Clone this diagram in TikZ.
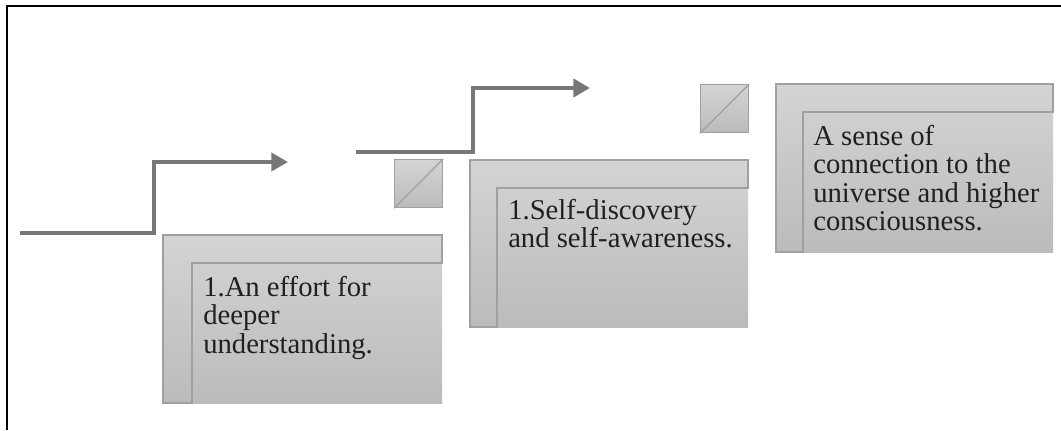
\documentclass[tikz,border=0pt]{standalone}
\usepackage{fontspec}
\setmainfont{Liberation Serif}
\usetikzlibrary{arrows.meta,calc,positioning}

\definecolor{stairgray}{HTML}{777777}
\definecolor{cardtop}{HTML}{D4D4D4}
\definecolor{cardbottom}{HTML}{BBBBBB}
\definecolor{cardedge}{HTML}{A0A0A0}
\definecolor{inktext}{HTML}{202020}

\tikzset{
	stair/.style={to path={-| ($(\tikztostart)!.5!(\tikztotarget)$) |- (\tikztotarget)}},
	stairline/.style={draw=stairgray, line width=3pt, -{Triangle[length=12.5pt,width=13.5pt]}},
	cardfill/.style={top color=cardtop, bottom color=cardbottom},
	cardline/.style={draw=cardedge, line width=1.2pt, line join=miter},
	tickbox/.style={draw=cardedge, line width=0.9pt, top color=cardtop, bottom color=cardbottom, minimum size=36pt, inner sep=0pt, anchor=north west},
	cardtext/.style={anchor=north west, inner sep=0pt, align=left, text=inktext, font=\fontsize{21.5}{21.3}\selectfont},
}

\begin{document}
\begin{tikzpicture}[x=0.75pt,y=-0.75pt]
	\useasboundingbox (0,0) rectangle (1061,430);
	% frame
	\draw[line width=1.6pt] (7,430) -- (7,6) -- (1061,6);

	% stair arrows
	\coordinate (s1a) at (20,233);
	\coordinate (s1b) at (288,162);
	\coordinate (s2a) at (356,152);
	\coordinate (s2b) at (590,88);
	\draw[stairline] (s1a) to[stair] (s1b);
	\draw[stairline] (s2a) to[stair] (s2b);

	% small boxes
	\node[tickbox] (q1) at (394,159) {};
	\node[tickbox] (q2) at (700,84) {};
	\draw[cardedge, line width=0.9pt] (q1.south west) -- (q1.north east);
	\draw[cardedge, line width=0.9pt] (q2.south west) -- (q2.north east);

	% cards
	\coordinate (c1) at (163,235);
	\coordinate (c2) at (470,160);
	\coordinate (c3) at (776,84);
	\fill[cardfill] (c1) rectangle ++(279,168);
	\fill[cardfill] (c2) rectangle ++(278,167);
	\fill[cardfill] (c3) rectangle ++(277,168);
	\draw[cardline] (c1) -- ++(279,0) -- ++(0,28) -- ++(-250,0) -- ++(0,140) -- ++(-29,0) -- cycle;
	\draw[cardline] (c2) -- ++(278,0) -- ++(0,28) -- ++(-251,0) -- ++(0,139) -- ++(-27,0) -- cycle;
	\draw[cardline] (c3) -- ++(277,0) -- ++(0,28) -- ++(-250,0) -- ++(0,140) -- ++(-27,0) -- cycle;

	% card texts
	\node[cardtext] (t1) at ([shift={(40,41)}]c1) {1.An effort for\\deeper\\understanding.};
	\node[cardtext] (t2) at ([shift={(38,39)}]c2) {1.Self-discovery\\and self-awareness.};
	\node[cardtext] (t3) at ([shift={(37,41)}]c3) {A sense of\\connection to the\\universe and higher\\consciousness.};
\end{tikzpicture}
\end{document}
